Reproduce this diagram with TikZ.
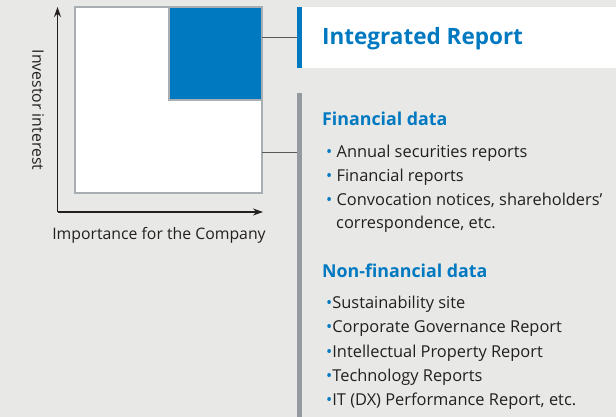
\documentclass[tikz,border=0pt]{standalone}
\usepackage{fontspec}
\setmainfont{Open Sans}
\usetikzlibrary{arrows.meta}
\definecolor{bg}{HTML}{E8E9E7}
\definecolor{iblue}{HTML}{0079C1}
\definecolor{framec}{HTML}{A9AEB2}
\definecolor{barc}{HTML}{959A9F}
\definecolor{txt}{HTML}{231F20}
\definecolor{connc}{HTML}{5A5A5A}
\newcommand{\bul}{{\color{iblue}\textbullet}}
\begin{document}
\begin{tikzpicture}[x=1pt,y=-1pt,
  box/.style={inner sep=0pt,outer sep=0pt},
  conn/.style={draw=connc,line width=0.9pt},
  axis/.style={draw=txt,line width=1.1pt,-{Stealth[length=10pt,width=7pt]}},
  head/.style={anchor=base west,inner sep=0pt,text=iblue,font=\fontsize{17.8}{20}\selectfont\bfseries},
  item/.style={anchor=base west,inner sep=0pt,text=txt,font=\fontsize{16.4}{19}\selectfont},
  lab/.style={inner sep=0pt,text=txt,font=\fontsize{15.8}{18}\selectfont}]
\fill[bg] (0,0) rectangle (616,417);
\useasboundingbox (0,0) rectangle (616,417);
% matrix
\node (mat) [box,draw=framec,line width=2pt,fill=white,minimum width=187pt,minimum height=186pt,anchor=north west] at (75,7) {};
\node (hi) [box,draw=framec,line width=2pt,fill=iblue,minimum width=93pt,minimum height=93pt,anchor=north east] at (mat.north east) {};
\draw[framec,line width=2pt] (mat.north west) rectangle (mat.south east);
% axes
\coordinate (o) at (57.5,212);
\coordinate (ytip) at (57.5,7);
\coordinate (xtip) at (263,212);
\draw[axis] (o) -- (ytip);
\draw[axis] (o) -- (xtip);
\node (ylab) [lab,rotate=-90] at (38,110) {Investor interest};
\node (xlab) [lab] at (159,235) {Importance for the Company};
% integrated report
\node (ir) [box,fill=white,minimum width=319pt,minimum height=61pt,anchor=north west] at (297,7) {};
\fill[iblue] (297,7) rectangle (302,68);
\node (irt) [anchor=base west,inner sep=0pt,text=iblue,font=\fontsize{22.5}{26}\selectfont\bfseries] at (322,45) {Integrated Report};
% gray bar
\node (bar) [box,fill=barc,minimum width=5pt,minimum height=324pt,anchor=north west] at (297,93) {};
\coordinate (c2) at (297,152);
\draw[conn] (mat.east |- ir.west) -- (ir.west);
\draw[conn] (mat.east |- c2) -- (c2);
% financial
\node (fh) [head] at (322,126) {Financial data};
\node (f1) [item] at (326,158) {\bul\ Annual securities reports};
\node (f2) [item] at (326,182) {\bul\ Financial reports};
\node (f3) [item] at (326,205) {\bul\ Convocation notices, shareholders’};
\node (f4) [item] at (336,228) {correspondence, etc.};
% non-financial
\node (nh) [head] at (322,277) {Non-financial data};
\node (n1) [item] at (326,308) {\bul Sustainability site};
\node (n2) [item] at (326,332) {\bul Corporate Governance Report};
\node (n3) [item] at (326,357) {\bul Intellectual Property Report};
\node (n4) [item] at (326,381) {\bul Technology Reports};
\node (n5) [item] at (326,405) {\bul IT (DX) Performance Report, etc.};
\end{tikzpicture}
\end{document}
